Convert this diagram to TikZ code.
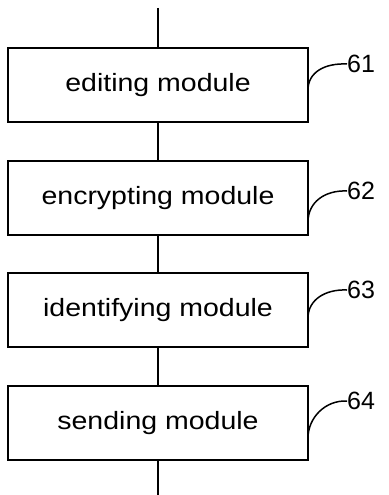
\documentclass[tikz,border=0pt]{standalone}
\usepackage{fontspec}
\setmainfont{Liberation Sans}
\begin{document}
\begin{tikzpicture}[x=1pt,y=-1pt,
  modbox/.style={draw=black, line width=1.8pt, minimum width=300pt, minimum height=74pt, inner sep=0pt, font=\fontsize{25}{29}\selectfont},
  refnum/.style={anchor=west, inner sep=0pt, font=\fontsize{25}{29}\selectfont},
  lead/.style={line width=1.5pt},
  conn/.style={line width=1.8pt}]
\useasboundingbox (0,0) rectangle (388,495);
\node[modbox] (m1) at (158,85) {\scalebox{1.14}[1]{editing module}};
\node[modbox] (m2) at (158,198) {\scalebox{1.14}[1]{encrypting module}};
\node[modbox] (m3) at (158,310) {\scalebox{1.14}[1]{identifying module}};
\node[modbox] (m4) at (158,423) {\scalebox{1.14}[1]{sending module}};
\coordinate (top) at (158,8);
\coordinate (bot) at (158,495);
\draw[conn] (top) -- (m1.north);
\draw[conn] (m1.south) -- (m2.north);
\draw[conn] (m2.south) -- (m3.north);
\draw[conn] (m3.south) -- (m4.north);
\draw[conn] (m4.south) -- (bot);
\node[refnum] (l1) at (347,64) {61};
\node[refnum] (l2) at (347,191) {62};
\node[refnum] (l3) at (347,290) {63};
\node[refnum] (l4) at (347,401) {64};
\coordinate (s1) at (308,90);
\coordinate (s2) at (308,222);
\coordinate (s3) at (308,318);
\coordinate (s4) at (308,438);
\draw[lead] (s1) .. controls (308,72) and (325,63) .. (l1.west);
\draw[lead] (s2) .. controls (308,202) and (325,190) .. (l2.west);
\draw[lead] (s3) .. controls (308,300) and (325,289) .. (l3.west);
\draw[lead] (s4) .. controls (308,418) and (325,400) .. (l4.west);
\end{tikzpicture}
\end{document}
